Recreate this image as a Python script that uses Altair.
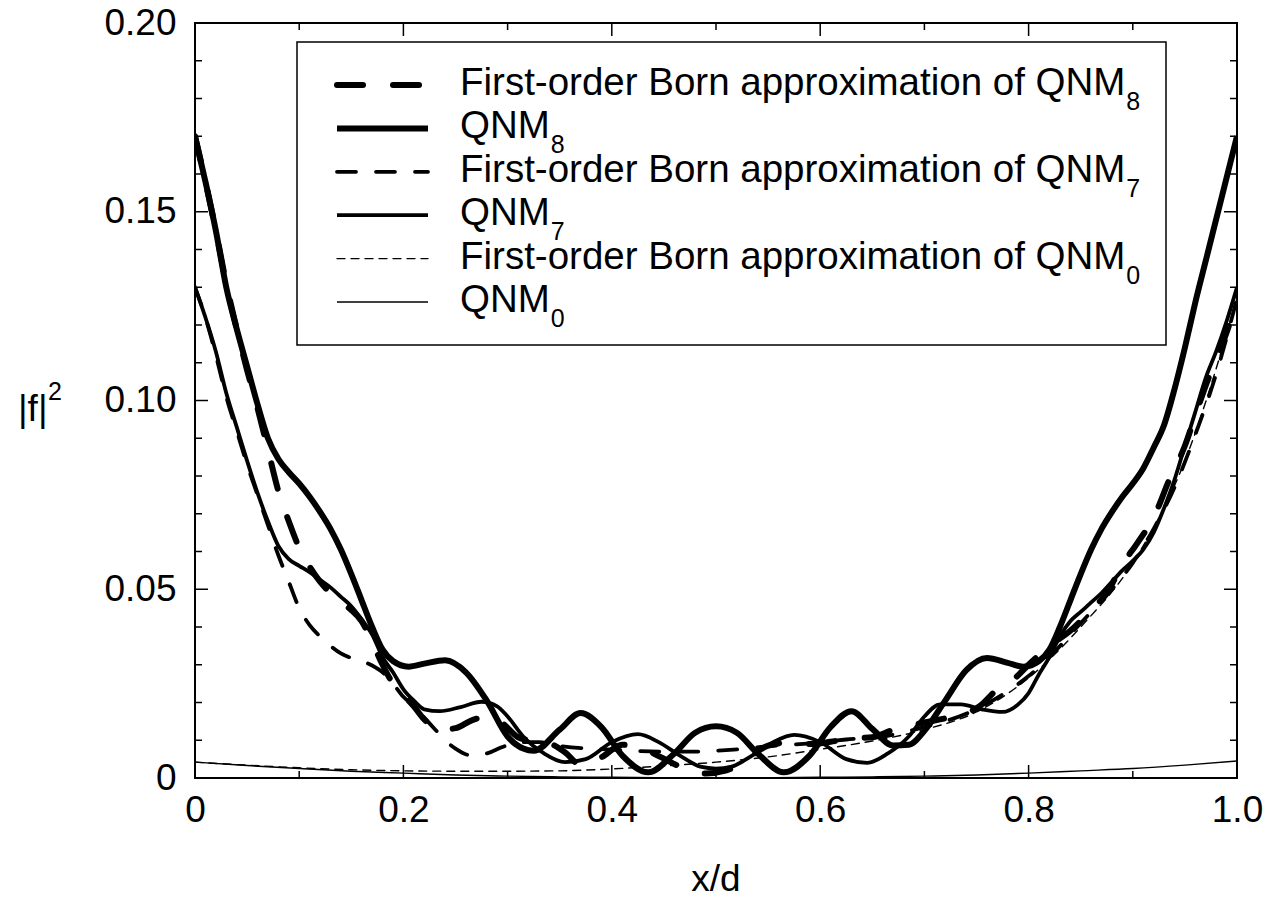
import altair as alt
import pandas as pd

# ---------------- data ----------------
qnm8_x = [0, 0.01, 0.02, 0.03, 0.04, 0.05, 0.06, 0.07, 0.08, 0.09, 0.10, 0.11, 0.12, 0.13, 0.14, 0.15,
          0.16, 0.17, 0.18, 0.19, 0.205, 0.22, 0.24, 0.26, 0.28, 0.30, 0.315, 0.325, 0.35, 0.37, 0.39,
          0.41, 0.435, 0.46, 0.48, 0.50, 0.52, 0.54, 0.565, 0.59, 0.61, 0.63, 0.65, 0.67, 0.685, 0.70,
          0.72, 0.74, 0.76, 0.78, 0.795, 0.81, 0.82, 0.83, 0.84, 0.85, 0.86, 0.87, 0.88, 0.89, 0.90,
          0.91, 0.92, 0.93, 0.94, 0.95, 0.96, 0.97, 0.98, 0.99, 1.0]
qnm8_y = [0.170, 0.158, 0.145, 0.130, 0.119, 0.109, 0.099, 0.090, 0.0845, 0.081, 0.078, 0.0745, 0.0705,
          0.066, 0.0605, 0.054, 0.047, 0.040, 0.034, 0.031, 0.0295, 0.0303, 0.0312, 0.028, 0.0205, 0.011,
          0.0078, 0.0072, 0.0128, 0.0172, 0.0135, 0.0060, 0.0015, 0.0065, 0.0120, 0.0137, 0.0120, 0.0065,
          0.0015, 0.0060, 0.0135, 0.0177, 0.0130, 0.0086, 0.0088, 0.0125, 0.0205, 0.0285, 0.0318, 0.0305,
          0.0295, 0.031, 0.034, 0.040, 0.047, 0.054, 0.0605, 0.066, 0.0705, 0.0745, 0.078, 0.082, 0.0875,
          0.0935, 0.103, 0.114, 0.126, 0.137, 0.148, 0.159, 0.170]

qnm7_x = [0, 0.01, 0.02, 0.03, 0.04, 0.05, 0.06, 0.07, 0.08, 0.09, 0.10, 0.11, 0.12, 0.13, 0.14, 0.15,
          0.16, 0.17, 0.18, 0.19, 0.20, 0.21, 0.22, 0.235, 0.255, 0.275, 0.29, 0.30, 0.315, 0.335, 0.355,
          0.375, 0.40, 0.425, 0.445, 0.465, 0.485, 0.50, 0.515, 0.535, 0.555, 0.575, 0.60, 0.625, 0.645,
          0.665, 0.685, 0.70, 0.715, 0.735, 0.755, 0.775, 0.79, 0.80, 0.81, 0.82, 0.83, 0.84, 0.85, 0.86,
          0.87, 0.88, 0.89, 0.90, 0.91, 0.92, 0.93, 0.94, 0.95, 0.96, 0.97, 0.98, 0.99, 1.0]
qnm7_y = [0.130, 0.122, 0.113, 0.102, 0.093, 0.084, 0.0755, 0.068, 0.0615, 0.058, 0.0562, 0.0545, 0.0525,
          0.0505, 0.048, 0.0455, 0.042, 0.038, 0.032, 0.028, 0.0235, 0.0205, 0.0182, 0.0177, 0.0188,
          0.0202, 0.0190, 0.0163, 0.011, 0.0065, 0.0042, 0.0050, 0.0095, 0.0116, 0.0095, 0.0060, 0.0030,
          0.0025, 0.0030, 0.0060, 0.0095, 0.0114, 0.0095, 0.0050, 0.0040, 0.0065, 0.011, 0.0163, 0.0195,
          0.0195, 0.0182, 0.0175, 0.0195, 0.0225, 0.0275, 0.032, 0.0375, 0.0415, 0.044, 0.0465, 0.049,
          0.052, 0.055, 0.0575, 0.0605, 0.065, 0.0715, 0.079, 0.088, 0.097, 0.106, 0.113, 0.121, 0.130]

born8_x = [0, 0.01, 0.02, 0.03, 0.04, 0.05, 0.06, 0.07, 0.08, 0.09, 0.10, 0.11, 0.12, 0.13, 0.14, 0.15,
           0.16, 0.17, 0.18, 0.19, 0.20, 0.21, 0.22, 0.235, 0.25, 0.265, 0.28, 0.295, 0.31, 0.325, 0.34,
           0.355, 0.37, 0.39, 0.41, 0.425, 0.445, 0.47, 0.49, 0.51, 0.53, 0.55, 0.57, 0.59, 0.61, 0.63,
           0.65, 0.67, 0.70, 0.727, 0.753, 0.77, 0.785, 0.80, 0.82, 0.84, 0.86, 0.875, 0.89, 0.905, 0.92,
           0.935, 0.95, 0.96, 0.97, 0.98, 0.99, 1.0]
born8_y = [0.170, 0.158, 0.145, 0.131, 0.119, 0.108, 0.098, 0.087, 0.076, 0.068, 0.061, 0.056, 0.052,
           0.049, 0.0465, 0.0445, 0.0415, 0.036, 0.030, 0.025, 0.022, 0.019, 0.0155, 0.0128, 0.0132,
           0.0152, 0.0162, 0.0145, 0.0108, 0.0098, 0.0092, 0.0068, 0.0035, 0.0055, 0.0088, 0.0084, 0.0058,
           0.0025, 0.0012, 0.0020, 0.0050, 0.0086, 0.0094, 0.0090, 0.0096, 0.0105, 0.0108, 0.0128, 0.0147,
           0.0163, 0.019, 0.0235, 0.026, 0.030, 0.035, 0.039, 0.0445, 0.049, 0.0565, 0.0625, 0.069, 0.079,
           0.088, 0.096, 0.104, 0.111, 0.118, 0.127]

born7_x = [0, 0.01, 0.02, 0.03, 0.04, 0.05, 0.06, 0.07, 0.08, 0.09, 0.10, 0.11, 0.12, 0.13, 0.14, 0.15,
           0.16, 0.17, 0.18, 0.19, 0.20, 0.21, 0.22, 0.23, 0.24, 0.25, 0.265, 0.28, 0.295, 0.31, 0.33,
           0.35, 0.40, 0.45, 0.48, 0.52, 0.55, 0.59, 0.625, 0.66, 0.70, 0.74, 0.78, 0.80, 0.82, 0.84, 0.86,
           0.88, 0.90, 0.92, 0.94, 0.96, 0.98, 1.0]
born7_y = [0.130, 0.122, 0.112, 0.101, 0.092, 0.083, 0.075, 0.067, 0.059, 0.052, 0.045, 0.0405, 0.0375,
           0.035, 0.033, 0.0318, 0.031, 0.0298, 0.028, 0.025, 0.0215, 0.019, 0.016, 0.013, 0.010, 0.0078,
           0.0060, 0.0065, 0.0082, 0.0095, 0.0095, 0.0085, 0.0075, 0.0070, 0.0070, 0.0076, 0.0084, 0.0092,
           0.0102, 0.0110, 0.0135, 0.0170, 0.0230, 0.027, 0.032, 0.038, 0.044, 0.050, 0.057, 0.066, 0.077,
           0.091, 0.107, 0.127]

born0_x = [0, 0.05, 0.10, 0.15, 0.20, 0.25, 0.30, 0.35, 0.40, 0.45, 0.50, 0.55, 0.60, 0.65, 0.70, 0.75,
           0.80, 0.85, 0.90, 0.95, 1.0]
born0_y = [0.0042, 0.0034, 0.0027, 0.0022, 0.0019, 0.0018, 0.0018, 0.0019, 0.0024, 0.0032, 0.0042,
           0.0056, 0.0076, 0.0098, 0.0128, 0.0175, 0.0265, 0.040, 0.057, 0.084, 0.127]

qnm0_x = [0, 0.05, 0.10, 0.15, 0.20, 0.25, 0.30, 0.35, 0.40, 0.45, 0.50, 0.55, 0.60, 0.65, 0.70, 0.75,
          0.80, 0.85, 0.90, 0.95, 1.0]
qnm0_y = [0.0042, 0.0033, 0.0025, 0.0018, 0.0013, 0.0008, 0.0005, 0.0003, 0.0002, 0.0001, 0.0001,
          0.0001, 0.0002, 0.0003, 0.0005, 0.0008, 0.0013, 0.0019, 0.0025, 0.0034, 0.0045]

legend_main = ["First-order Born approximation of QNM", "QNM", "First-order Born approximation of QNM",
               "QNM", "First-order Born approximation of QNM", "QNM"]
legend_sub = ["8", "8", "7", "7", "0", "0"]

x_major = [0, 0.2, 0.4, 0.6, 0.8, 1.0]
x_minor = [0.1, 0.3, 0.5, 0.7, 0.9]
y_major = [0, 0.05, 0.10, 0.15, 0.20]
y_minor = [0.01, 0.02, 0.03, 0.04, 0.06, 0.07, 0.08, 0.09, 0.11, 0.12, 0.13, 0.14, 0.16, 0.17, 0.18, 0.19]

x_title = ["x/d"]
y_title_main = ["|f|"]
y_title_sup = ["2"]

# ---------------- styling ----------------
W, H = 1042, 755
TOP = 15          # plot top = 8 + TOP on the page
FONT = "Liberation Sans"
FS = 37

# (x, y, strokeWidth, strokeDash or None)
series = [
    (born8_x, born8_y, 6.0, [26, 30]),
    (qnm8_x, qnm8_y, 6.0, None),
    (born7_x, born7_y, 3.8, [19, 20]),
    (qnm7_x, qnm7_y, 3.8, None),
    (born0_x, born0_y, 1.4, [8, 6]),
    (qnm0_x, qnm0_y, 1.4, None),
]

xs = alt.Scale(domain=[0, 1], nice=False, zero=False)
ys = alt.Scale(domain=[0, 0.2], nice=False, zero=False)

common_axis = dict(title=None, ticks=False, tickSize=0, domain=False, grid=False,
                   labelFont=FONT, labelFontSize=FS, labelColor="black",
                   labelFlush=False, labelOverlap=False)
AX = alt.Axis(values=x_major, labelExpr="datum.value == 0 ? '0' : format(datum.value, '.1f')",
              labelPadding=14, **common_axis)
AY = alt.Axis(values=y_major, labelExpr="datum.value == 0 ? '0' : format(datum.value, '.2f')",
              labelPadding=19, **common_axis)

layers = []
for i, (sx, sy, sw, dash) in enumerate(series):
    df = pd.DataFrame({"x": sx, "y": sy})
    kw = dict(color="black", strokeWidth=sw, interpolate="monotone", clip=True)
    if dash is not None:
        kw["strokeDash"] = dash
        kw["strokeCap"] = "round"
    layers.append(alt.Chart(df).mark_line(**kw).encode(
        x=alt.X("x:Q", scale=xs, axis=AX),
        y=alt.Y("y:Q", scale=ys, axis=AY),
        order="x:Q"))

# tick marks drawn inward on all four sides
def xticks(vals, L):
    d = pd.DataFrame({"x": vals})
    bot = alt.Chart(d).mark_rule(color="black", strokeWidth=1.5).encode(
        x=alt.X("x:Q", scale=xs, axis=AX), y=alt.value(H), y2=alt.value(H - L))
    top = alt.Chart(d).mark_rule(color="black", strokeWidth=1.5).encode(
        x=alt.X("x:Q", scale=xs, axis=AX), y=alt.value(0), y2=alt.value(L))
    return [bot, top]

def yticks(vals, L):
    d = pd.DataFrame({"y": vals})
    lft = alt.Chart(d).mark_rule(color="black", strokeWidth=1.5).encode(
        y=alt.Y("y:Q", scale=ys, axis=AY), x=alt.value(0), x2=alt.value(L))
    rgt = alt.Chart(d).mark_rule(color="black", strokeWidth=1.5).encode(
        y=alt.Y("y:Q", scale=ys, axis=AY), x=alt.value(W), x2=alt.value(W - L))
    return [lft, rgt]

layers += xticks(x_major, 13) + xticks(x_minor, 7) + yticks(y_major, 13) + yticks(y_minor, 7)

# legend box (page coordinates converted to plot coordinates)
off = 8 + TOP
one = pd.DataFrame({"k": [0]})
layers.append(alt.Chart(one).mark_rect(fill="white", stroke="black", strokeWidth=1.5).encode(
    x=alt.value(102), x2=alt.value(971), y=alt.value(42 - off), y2=alt.value(345 - off)))

AW = {" ": 278, "-": 333, "B": 667, "F": 611, "M": 833, "N": 722, "Q": 778, "a": 556, "d": 556,
      "e": 556, "f": 278, "i": 222, "m": 833, "n": 556, "o": 556, "p": 556, "r": 333, "s": 500,
      "t": 278, "x": 500}
LFS = 38.5
SFS = 25
base0 = 95 - off
step = 43.4
for i in range(6):
    sx, sy, sw, dash = series[i]
    bl = base0 + i * step
    kw = dict(color="black", strokeWidth=sw)
    if dash is not None:
        kw["strokeDash"] = dash
        kw["strokeCap"] = "round"
    layers.append(alt.Chart(one).mark_rule(**kw).encode(
        x=alt.value(142), x2=alt.value(233), y=alt.value(bl - 10)))
    tdf = pd.DataFrame({"t": [legend_main[i]]})
    layers.append(alt.Chart(tdf).mark_text(font=FONT, fontSize=LFS, align="left", baseline="alphabetic",
                                           color="black").encode(
        text="t:N", x=alt.value(265), y=alt.value(bl)))
    wid = sum(AW.get(c, 556) for c in legend_main[i]) * LFS / 1000.0
    sdf = pd.DataFrame({"t": [legend_sub[i]]})
    layers.append(alt.Chart(sdf).mark_text(font=FONT, fontSize=SFS, align="left", baseline="alphabetic",
                                           color="black").encode(
        text="t:N", x=alt.value(265 + wid + 1), y=alt.value(bl + 15)))

# axis titles
layers.append(alt.Chart(pd.DataFrame({"t": x_title})).mark_text(
    font=FONT, fontSize=FS, align="center", baseline="middle", color="black").encode(
    text="t:N", x=alt.value(W / 2), y=alt.value(880 - off)))
layers.append(alt.Chart(pd.DataFrame({"t": y_title_main})).mark_text(
    font=FONT, fontSize=FS, align="left", baseline="alphabetic", color="black").encode(
    text="t:N", x=alt.value(-177), y=alt.value(421 - off)))
layers.append(alt.Chart(pd.DataFrame({"t": y_title_sup})).mark_text(
    font=FONT, fontSize=25, align="left", baseline="alphabetic", color="black").encode(
    text="t:N", x=alt.value(-147), y=alt.value(400 - off)))

chart = alt.layer(*layers).properties(
    width=W, height=H,
    padding={"left": 187, "top": TOP, "right": 41, "bottom": 916 - 16 - TOP - H},
    autosize=alt.AutoSizeParams(type="none"),
    background="white",
).configure_view(stroke="black", strokeWidth=2)

chart.save("out.html", embed_options={"renderer": "svg", "actions": False})
